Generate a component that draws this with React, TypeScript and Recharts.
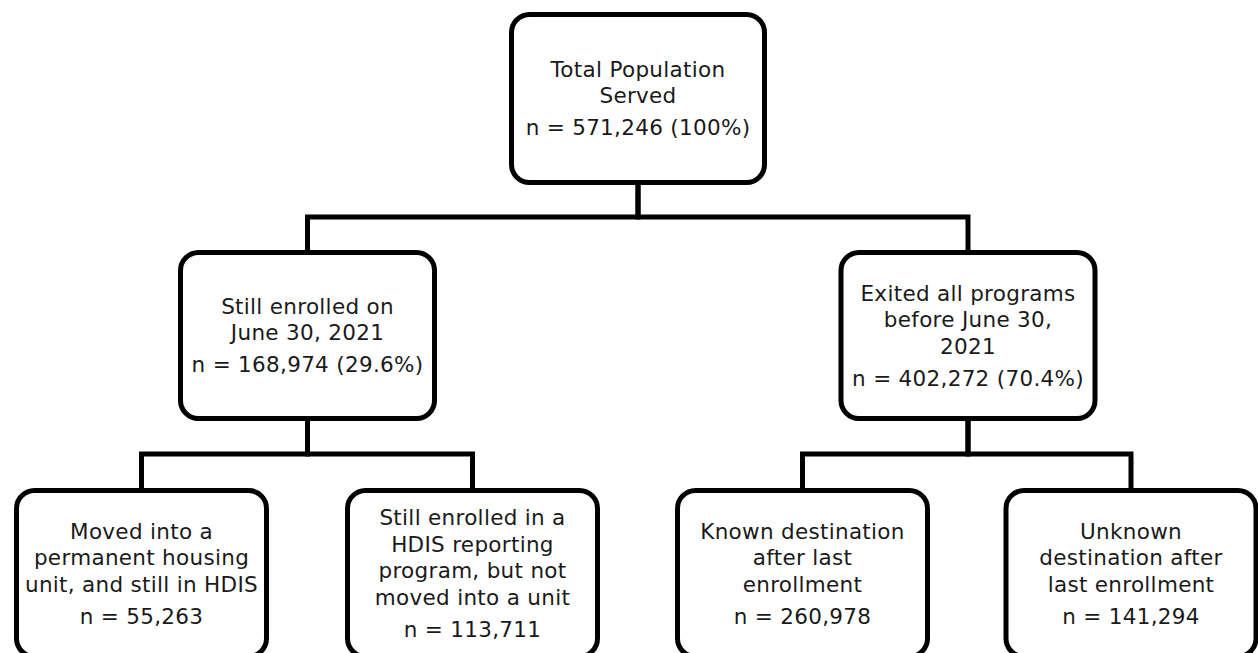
import React from "react";
import { ComposedChart, XAxis, YAxis, Line, Scatter } from "recharts";

// ---- data ----
const nodeLabels: string[][] = [
  ["Total Population", "Served"],
  ["Still enrolled on", "June 30, 2021"],
  ["Exited all programs", "before June 30,", "2021"],
  ["Moved into a", "permanent housing", "unit, and still in HDIS"],
  ["Still enrolled in a", "HDIS reporting", "program, but not", "moved into a unit"],
  ["Known destination", "after last", "enrollment"],
  ["Unknown", "destination after", "last enrollment"],
];
const nodeCounts: number[] = [571246, 168974, 402272, 55263, 113711, 260978, 141294];
const nodeShares: (string | null)[] = ["100%", "29.6%", "70.4%", null, null, null, null];
const nodeParents: (number | null)[] = [null, 0, 0, 1, 1, 2, 2];
const nodeLevels: number[] = [0, 1, 1, 2, 2, 2, 2];

// ---- layout (chart units == pixels) ----
const W = 1258;
const H = 653;
const nodeCenterX: number[] = [638, 307.5, 968, 141.5, 472.5, 802.5, 1131];
const levelCenterY: number[] = [98.5, 335.5, 573.5];
const levelBoxW: number[] = [253, 254, 250];
const levelBoxH: number[] = [168, 166, 166];
const levelBusY: number[] = [217, 454];
const STROKE = 5;
const LINE_GAP = 26.5;
const N_GAP = 32;
const FONT = "'DejaVu Sans', sans-serif";
const FONT_SIZE = 21.5;
const LETTER_SPACING = 0.3;

type Node = {
  x: number;
  y: number;
  lines: string[];
  nText: string;
  level: number;
};

const nodes: Node[] = nodeLabels.map((lines, i) => ({
  x: nodeCenterX[i],
  y: levelCenterY[nodeLevels[i]],
  lines,
  nText:
    "n = " +
    nodeCounts[i].toLocaleString("en-US") +
    (nodeShares[i] ? ` (${nodeShares[i]})` : ""),
  level: nodeLevels[i],
}));

const edges: { x: number; y: number }[][] = nodeParents
  .map((p, i) => {
    if (p === null) return null;
    const parent = nodes[p];
    const child = nodes[i];
    const pb = parent.y + levelBoxH[parent.level] / 2;
    const ct = child.y - levelBoxH[child.level] / 2;
    const bus = levelBusY[parent.level];
    return [
      { x: parent.x, y: pb },
      { x: parent.x, y: bus },
      { x: child.x, y: bus },
      { x: child.x, y: ct },
    ];
  })
  .filter((e): e is { x: number; y: number }[] => e !== null);

const BoxShape = (props: any) => {
  const { cx, cy, payload } = props;
  if (cx == null || cy == null) return null;
  const n: Node = payload;
  const bw = levelBoxW[n.level];
  const bh = levelBoxH[n.level];
  const L = n.lines.length;
  const span = (L - 1) * LINE_GAP + N_GAP;
  const top = cy - span / 2;
  const textProps = {
    textAnchor: "middle" as const,
    dominantBaseline: "central" as const,
    fontFamily: FONT,
    fontSize: FONT_SIZE,
    letterSpacing: LETTER_SPACING,
    fill: "#1a1a1a",
  };
  return (
    <g>
      <rect
        x={cx - bw / 2}
        y={cy - bh / 2}
        width={bw}
        height={bh}
        rx={18}
        ry={18}
        fill="#ffffff"
        stroke="#000000"
        strokeWidth={STROKE}
      />
      {n.lines.map((t, k) => (
        <text key={k} x={cx} y={top + k * LINE_GAP} {...textProps}>
          {t}
        </text>
      ))}
      <text x={cx} y={top + span} {...textProps}>
        {n.nText}
      </text>
    </g>
  );
};

export default function App() {
  return (
    <div style={{ position: "absolute", left: 0, top: 0, width: W, height: H, background: "#fff" }}>
      <ComposedChart width={W} height={H} margin={{ top: 0, right: 0, bottom: 0, left: 0 }}>
        <XAxis type="number" dataKey="x" domain={[0, W]} hide allowDataOverflow />
        <YAxis type="number" dataKey="y" domain={[0, H]} reversed hide allowDataOverflow />
        {edges.map((e, i) => (
          <Line
            key={"edge" + i}
            data={e}
            dataKey="y"
            type="linear"
            stroke="#000000"
            strokeWidth={STROKE}
            strokeLinejoin="miter"
            dot={false}
            activeDot={false}
            isAnimationActive={false}
          />
        ))}
        <Scatter data={nodes} dataKey="y" shape={BoxShape} isAnimationActive={false} />
      </ComposedChart>
    </div>
  );
}
